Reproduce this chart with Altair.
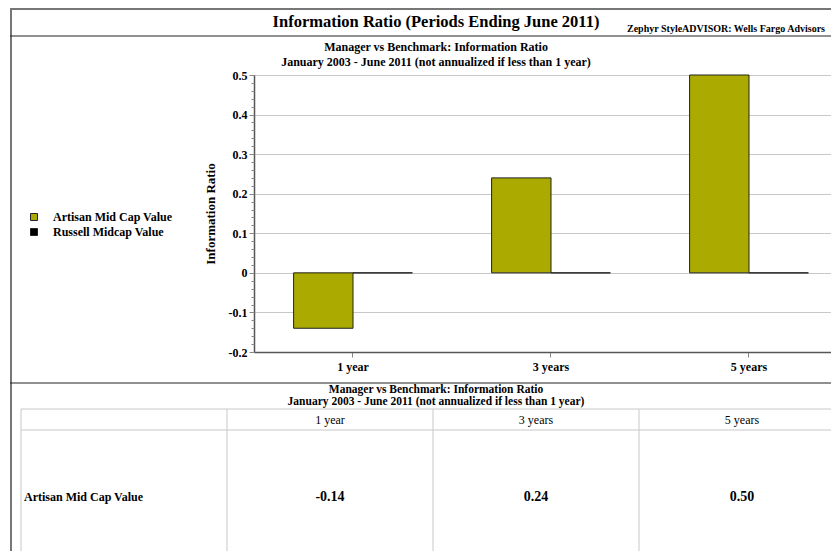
import altair as alt
import pandas as pd

# ---------------- data ----------------
periods = ["1 year", "3 years", "5 years"]
series = ["Artisan Mid Cap Value", "Russell Midcap Value"]
artisan = [-0.14, 0.24, 0.50]
russell = [0.0, 0.0, 0.0]
colors = ["#AAAA00", "#000000"]
y_ticks = [-0.2, -0.1, 0.0, 0.1, 0.2, 0.3, 0.4, 0.5]
minor_ticks = [round(-0.2 + 0.02 * i, 2) for i in range(36)]

title_text = "Information Ratio (Periods Ending June 2011)"
source_text = "Zephyr StyleADVISOR: Wells Fargo Advisors"
sub1 = "Manager vs Benchmark: Information Ratio"
sub2 = "January 2003 - June 2011 (not annualized if less than 1 year)"
row_label = "Artisan Mid Cap Value"

FONT = "Liberation Serif"

# layout helpers (page px -> plot-relative px)
OX, OY = 254, 75
W, H = 577, 277


def rx(px):
    return px - OX


def ry(py):
    return py - OY


rows = []
for p, a, r in zip(periods, artisan, russell):
    rows.append({"period": p, "series": series[0], "value": a})
    rows.append({"period": p, "series": series[1], "value": r})
bars_df = pd.DataFrame(rows)

table_df = pd.DataFrame({"period": periods, "label": [f"{v:.2f}" for v in artisan]})

# ---------------- bar chart ----------------
bars = alt.Chart(bars_df).mark_bar(stroke="#222222", strokeWidth=1).encode(
    x=alt.X(
        "period:N", sort=periods,
        scale=alt.Scale(domain=periods, range=[0, 594], paddingInner=0.4, paddingOuter=0.2),
        axis=alt.Axis(title=None, labelAngle=0, labelFont=FONT, labelFontWeight="bold",
                      labelFontSize=12, labelColor="black", labelPadding=4,
                      tickColor="#888888", tickSize=5, domainColor="#555555",
                      domainWidth=1.5, grid=False),
    ),
    xOffset=alt.XOffset("series:N", sort=series, scale=alt.Scale(domain=series)),
    y=alt.Y(
        "value:Q",
        scale=alt.Scale(domain=[-0.2, 0.5], nice=False, zero=False),
        axis=alt.Axis(
            orient="left", values=y_ticks, title="Information Ratio",
            titleFont=FONT, titleFontSize=13, titleFontWeight="bold", titleColor="black",
            titleX=-44, titleY=H / 2, titleAngle=-90, titleAlign="center", titleBaseline="middle",
            labelFont=FONT, labelFontSize=12, labelFontWeight="bold", labelColor="black",
            labelPadding=2, tickSize=5, tickColor="#888888",
            domainColor="#555555", domainWidth=1.5,
            grid=True, gridColor="#c8c8c8", gridWidth=1,
            labelExpr="datum.value == 0 ? '0' : replace(format(datum.value, '.1f'), '\u2212', '-')",
        ),
    ),
    y2=alt.datum(0),
    color=alt.Color(
        "series:N", sort=series,
        scale=alt.Scale(domain=series, range=colors),
        legend=alt.Legend(
            title=None, orient="none", legendX=rx(28), legendY=ry(211),
            symbolType="square", symbolSize=49, symbolStrokeColor="#222222",
            symbolStrokeWidth=1, labelFont=FONT, labelFontSize=12,
            labelFontWeight="bold", labelColor="black", rowPadding=3,
            labelOffset=13, padding=0,
        ),
    ),
)

minor = alt.Chart(bars_df).mark_bar(opacity=0).encode(
    y=alt.Y(
        "value:Q",
        scale=alt.Scale(domain=[-0.2, 0.5], nice=False, zero=False),
        axis=alt.Axis(orient="left", values=minor_ticks, labels=False, grid=False,
                      domain=False, tickSize=3, tickColor="#888888", title=None),
    ),
    y2=alt.datum(0),
)


# ---------------- decorations ----------------
def txt(text, px, py, size, weight="bold", align="center", baseline="middle"):
    return alt.Chart(pd.DataFrame({"t": [text]})).mark_text(
        font=FONT, fontSize=size, fontWeight=weight, color="black",
        align=align, baseline=baseline,
    ).encode(x=alt.value(rx(px)), y=alt.value(ry(py)), text="t:N")


def hline(py, px1, px2, color, width=1):
    return alt.Chart(pd.DataFrame({"k": [0]})).mark_rule(color=color, strokeWidth=width).encode(
        x=alt.value(rx(px1)), x2=alt.value(rx(px2)), y=alt.value(ry(py)))


def vline(px, py1, py2, color, width=1):
    return alt.Chart(pd.DataFrame({"k": [0]})).mark_rule(color=color, strokeWidth=width).encode(
        x=alt.value(rx(px)), y=alt.value(ry(py1)), y2=alt.value(ry(py2)))


RIGHT = OX + W
deco = [
    hline(9, 10, RIGHT, "#777777", 2),
    vline(11, 8, 560, "#777777", 2),
    hline(36, 10, RIGHT, "#222222", 1),
    hline(383, 10, RIGHT, "#222222", 1),
    txt(title_text, 436, 22, 16.5),
    txt(source_text, 627, 29, 10, align="left"),
    txt(sub1, 436, 47, 12),
    txt(sub2, 436, 62, 12),
    txt(sub1, 436, 390, 11.5),
    txt(sub2, 436, 401.5, 11.5),
    txt(row_label, 24, 497, 12, align="left"),
    hline(409, 21, RIGHT, "#c8c8c8", 1),
    hline(430, 21, RIGHT, "#c8c8c8", 1),
    vline(21, 409, 560, "#c8c8c8", 1),
]

# ---------------- table ----------------
tscale = alt.Scale(domain=periods, range=[rx(227), rx(845)], paddingInner=0, paddingOuter=0)

table_lines = alt.Chart(table_df).mark_rule(color="#c8c8c8", strokeWidth=1).encode(
    x=alt.X("period:N", sort=periods, scale=tscale, axis=None, bandPosition=0),
    y=alt.value(ry(409)), y2=alt.value(ry(560)),
)
table_head = alt.Chart(table_df).mark_text(
    font=FONT, fontSize=12, color="black", baseline="middle").encode(
    x=alt.X("period:N", sort=periods, scale=tscale, axis=None),
    y=alt.value(ry(420)), text="period:N",
)
table_vals = alt.Chart(table_df).mark_text(
    font=FONT, fontSize=14, fontWeight="bold", color="black", baseline="middle").encode(
    x=alt.X("period:N", sort=periods, scale=tscale, axis=None),
    y=alt.value(ry(497)), text="label:N",
)

chart = alt.layer(
    bars, minor, *deco, table_lines, table_head, table_vals
).resolve_scale(x="independent").resolve_axis(y="independent").properties(
    width=W, height=H,
    padding={"left": 246, "top": 67, "right": 0, "bottom": 199},
    autosize=alt.AutoSizeParams(type="none"),
    background="white",
).configure_view(stroke=None)

chart.save("out.html", embed_options={"renderer": "svg", "actions": False})
